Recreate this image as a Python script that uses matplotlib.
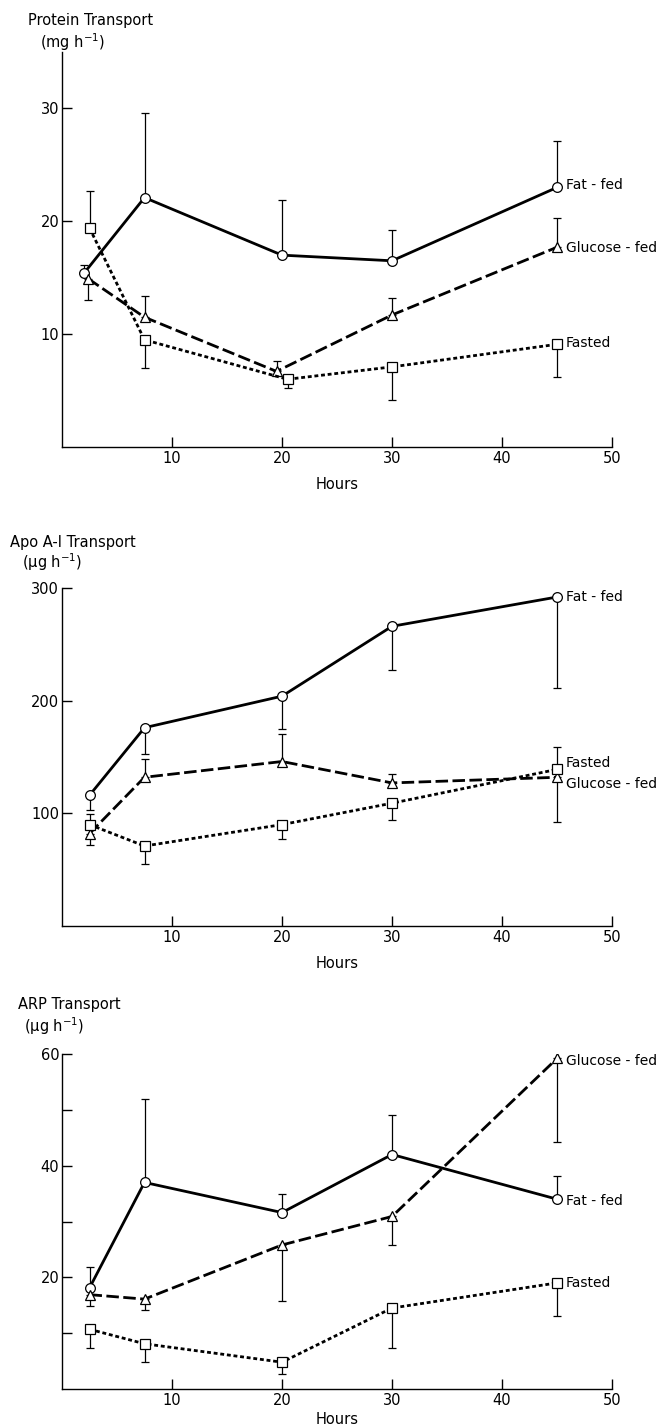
import numpy as np
import matplotlib
matplotlib.use("Agg")
import matplotlib.pyplot as plt

plt.rcParams['font.family'] = ['DejaVu Sans']

# sampling times (hours)
hours = [2.5, 7.5, 20, 30, 45]
hours_p1_fat = [2.0, 7.5, 20, 30, 45]
hours_p1_glu = [2.4, 7.5, 19.5, 30, 45]
hours_p1_fas = [2.5, 7.5, 20.5, 30, 45]

# --- Protein transport (mg h-1) ---
prot_fat = [15.4, 22.1, 17.0, 16.5, 23.0]
prot_fat_up = [0.7, 7.5, 4.9, 2.7, 4.1]
prot_fat_dn = [0, 0, 0, 0, 0]
prot_glu = [14.9, 11.5, 6.7, 11.7, 17.7]
prot_glu_up = [0, 1.9, 0.9, 1.5, 2.6]
prot_glu_dn = [1.9, 0, 0, 0, 0]
prot_fas = [19.4, 9.5, 6.0, 7.1, 9.1]
prot_fas_up = [3.3, 0, 0, 0, 0]
prot_fas_dn = [0, 2.5, 0.8, 2.9, 2.9]

# --- Apo A-I transport (ug h-1) ---
apo_fat = [116, 176, 204, 266, 292]
apo_fat_up = [0, 0, 0, 0, 0]
apo_fat_dn = [13, 23, 29, 39, 81]
apo_glu = [82, 132, 146, 127, 132]
apo_glu_up = [0, 16, 24, 8, 0]
apo_glu_dn = [10, 0, 0, 0, 40]
apo_fas = [90, 71, 90, 109, 139]
apo_fas_up = [9, 0, 0, 0, 20]
apo_fas_dn = [0, 16, 13, 15, 0]

# --- ARP transport (ug h-1) ---
arp_fat = [18.1, 37.0, 31.6, 42.0, 34.0]
arp_fat_up = [3.7, 15.0, 3.3, 7.0, 4.2]
arp_fat_dn = [0, 0, 0, 0, 0]
arp_glu = [16.9, 16.1, 25.8, 30.9, 59.2]
arp_glu_up = [0, 0, 0, 0, 0]
arp_glu_dn = [2.0, 2.0, 10.0, 5.1, 15.0]
arp_fas = [10.7, 8.1, 4.8, 14.5, 19.0]
arp_fas_up = [0, 0, 0, 0, 0]
arp_fas_dn = [3.4, 3.2, 2.1, 7.2, 6.0]

group_names = ["Fat - fed", "Glucose - fed", "Fasted"]

# label heights next to the last point (data units)
prot_label_y = [23.2, 17.6, 9.2]
apo_label_y = [292, 126, 145]
arp_label_y = [33.7, 58.8, 19.0]

W, H = 659, 1427
fig = plt.figure(figsize=(W / 100, H / 100), dpi=100)

styles = [
    dict(ls='-', marker='o'),
    dict(ls=(0, (4.5, 1.6)), marker='^'),
    dict(ls=(0, (1.4, 1.0)), marker='s'),
]


def px_axes(bottom_px, top_px):
    left, right = 62, 612
    return fig.add_axes([left / W, 1 - bottom_px / H,
                         (right - left) / W, (bottom_px - top_px) / H])


def draw_panel(ax, xs_list, ys_list, ups, dns, label_y, ymax, yticks, minor,
               lpad=8):
    for i, (xs, ys, up, dn) in enumerate(zip(xs_list, ys_list, ups, dns)):
        xs = np.array(xs, float)
        ys = np.array(ys, float)
        up = np.array(up, float)
        dn = np.array(dn, float)
        m = (up > 0) | (dn > 0)
        ax.errorbar(xs[m], ys[m], yerr=[dn[m], up[m]], fmt='none',
                    ecolor='black', elinewidth=0.9, capsize=3, capthick=0.9,
                    zorder=2)
        st = styles[i]
        ax.plot(xs, ys, color='black', lw=2.0, ls=st['ls'], marker=st['marker'],
                ms=7 if st['marker'] != 's' else 6.5, mfc='white', mec='black',
                mew=0.9, zorder=3)
        ax.text(xs[-1] + 0.8, label_y[i], group_names[i], fontsize=10,
                ha='left', va='center')
    ax.set_xlim(0, 50)
    ax.set_ylim(0, ymax)
    ax.set_xticks([10, 20, 30, 40, 50])
    ax.set_yticks(yticks)
    if minor:
        ax.set_yticks(minor, minor=True)
    for s in ['top', 'right']:
        ax.spines[s].set_visible(False)
    for s in ['left', 'bottom']:
        ax.spines[s].set_linewidth(1.0)
    ax.spines['left'].set_bounds(0, ymax)
    ax.tick_params(axis='both', which='both', direction='in', length=7,
                   width=1.0, labelsize=10.5)
    ax.tick_params(axis='x', pad=3)
    ax.tick_params(axis='y', pad=2)
    ax.set_xlabel("Hours", fontsize=10.5, labelpad=lpad)
    ax.patch.set_visible(False)


ax1 = px_axes(447, 52)
draw_panel(ax1, [hours_p1_fat, hours_p1_glu, hours_p1_fas],
           [prot_fat, prot_glu, prot_fas],
           [prot_fat_up, prot_glu_up, prot_fas_up],
           [prot_fat_dn, prot_glu_dn, prot_fas_dn],
           prot_label_y, 35, [10, 20, 30], None)

ax2 = px_axes(926, 588)
draw_panel(ax2, [hours, hours, hours],
           [apo_fat, apo_glu, apo_fas],
           [apo_fat_up, apo_glu_up, apo_fas_up],
           [apo_fat_dn, apo_glu_dn, apo_fas_dn],
           apo_label_y, 300, [100, 200, 300], None)

ax3 = px_axes(1389, 1054)
draw_panel(ax3, [hours, hours, hours],
           [arp_fat, arp_glu, arp_fas],
           [arp_fat_up, arp_glu_up, arp_fas_up],
           [arp_fat_dn, arp_glu_dn, arp_fas_dn],
           arp_label_y, 60, [20, 40, 60], [10, 30, 50], lpad=3)


def ftext(x, y, s):
    fig.text(x / W, 1 - y / H, s, fontsize=10.5, ha='left', va='center')


ftext(28, 21, "Protein Transport")
ftext(40, 42, "(mg h$^{-1}$)")
ftext(10, 542, "Apo A-I Transport")
ftext(22, 562, "(μg h$^{-1}$)")
ftext(18, 1005, "ARP Transport")
ftext(24, 1026, "(μg h$^{-1}$)")

fig.savefig("out.png", dpi=100)
